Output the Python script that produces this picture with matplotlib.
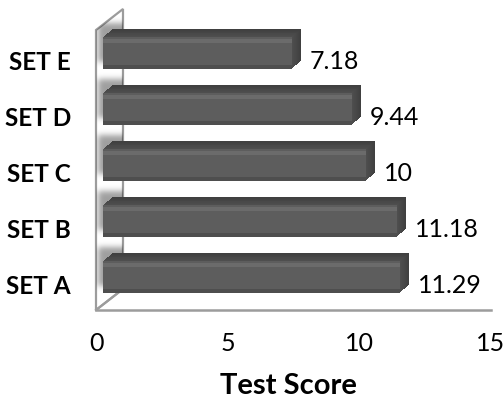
import numpy as np
import matplotlib
matplotlib.use("Agg")
import matplotlib.pyplot as plt
import matplotlib.transforms as mtransforms
from matplotlib.patches import Polygon
from matplotlib.lines import Line2D

categories = ["SET A", "SET B", "SET C", "SET D", "SET E"]
scores = [11.29, 11.18, 10, 9.44, 7.18]
x_ticks = [0, 5, 10, 15]

plt.rcParams["font.family"] = ["Lato", "DejaVu Sans"]

DPI = 100
fig = plt.figure(figsize=(5.04, 4.01), dpi=DPI)
# front plane of the 3d box
ax = fig.add_axes([96 / 504, 91 / 401, 395 / 504, 280 / 401], zorder=2)
ax.patch.set_visible(False)
ax.set_xlim(0, 15)
ax.set_ylim(-0.5, 4.5)
for s in ax.spines.values():
    s.set_visible(False)


def shift(dx, dy):
    # pixel offset into the depth of the box
    return mtransforms.ScaledTranslation(dx / DPI, dy / DPI, fig.dpi_scale_trans)


ident = mtransforms.IdentityTransform()
depth = (27, 21)


def disp(pt, d=(0, 0)):
    x, y = ax.transAxes.transform(pt)
    return (x + d[0], y + d[1])


wall_col = "#9c9c9c"
wall = Polygon([disp((0, 0)), disp((0, 1)), disp((0, 1), depth), disp((0, 0), depth)],
               closed=True, facecolor="white", edgecolor=wall_col, lw=1.6,
               transform=ident, zorder=0)
fig.add_artist(wall)
p0 = disp((0, 0))
p1 = disp((1, 0))
pb = disp((0, 0), depth)
fig.add_artist(Line2D([p0[0], p1[0]], [p0[1], p1[1]], color=wall_col, lw=1.8,
                      transform=ident, zorder=1))
fig.add_artist(Line2D([p0[0], pb[0]], [p0[1], pb[1]], color=wall_col, lw=1.6,
                      transform=ident, zorder=1))

ypos = list(range(len(categories)))
face_h = 32 / 56
front = ax.transData + shift(7, 5.5)

# soft shadows the bars throw onto the side wall
gx0, gw = 86, 44
sh = np.zeros((401, gw))
X, Y = np.meshgrid(np.arange(gw) + gx0 + 0.5, np.arange(401) + 0.5)
for y in ypos:
    (bx, by0) = front.transform((0, y - face_h / 2))
    (_, by1) = front.transform((0, y + face_h / 2))
    sh[(X > bx - 5) & (X < bx + 25) & (Y > by0 + 6) & (Y < by1 + 14)] = 1
k = np.exp(-0.5 * (np.arange(-9, 10) / 3.0) ** 2)
k /= k.sum()
sh = np.apply_along_axis(lambda r: np.convolve(r, k, "same"), 0, sh)
sh = np.apply_along_axis(lambda r: np.convolve(r, k, "same"), 1, sh)
rgba = np.zeros((401, gw, 4))
rgba[..., 3] = 0.38 * sh
img = fig.figimage(rgba, xo=gx0, yo=0, origin="lower", zorder=0.5)
img.set_clip_path(wall)

# extruded body of each bar: stacked copies going back into the box
n_layers = 9
for k in range(n_layers, 0, -1):
    g = 0x40 + int((n_layers - k) * 1.8)
    ax.barh(ypos, scores, height=face_h, color=f"#{g:02x}{g:02x}{g:02x}", linewidth=0,
            transform=ax.transData + shift(7 + k, 5.5 + k * 0.78), clip_on=False, zorder=2)

ax.barh(ypos, scores, height=face_h, color="#5d5d5d", linewidth=0,
        transform=front, clip_on=False, zorder=3)
# light strip on the upper edge and darker lower edge of the face
band = 3.5 / 56
ax.barh([y + face_h / 2 - band * 1.3 for y in ypos], scores, height=band,
        color="#6b6b6b", linewidth=0, transform=front, clip_on=False, zorder=4)
ax.barh([y - face_h / 2 + band / 2 for y in ypos], scores, height=band,
        color="#4e4e4e", linewidth=0, transform=front, clip_on=False, zorder=4)

for y, v in zip(ypos, scores):
    ax.annotate(f"{v:g}", xy=(v, y), xytext=(25, -3.5), textcoords="offset pixels",
                ha="left", va="center", fontsize=18, color="black")

ax.set_xticks(x_ticks)
ax.set_xticklabels([str(t) for t in x_ticks])
ax.set_yticks(ypos)
ax.set_yticklabels(categories, fontweight="bold")
ax.tick_params(axis="x", length=0, pad=16, labelsize=18)
ax.tick_params(axis="y", length=0, pad=18, labelsize=17.5)
for lab in ax.get_yticklabels():
    lab.set_transform(lab.get_transform() + shift(0, -3))

ax.text((288 - 96) / 395, -76 / 280, "Test Score", transform=ax.transAxes,
        ha="center", va="center", fontsize=21, fontweight="bold")

fig.savefig("out.png", dpi=DPI)
